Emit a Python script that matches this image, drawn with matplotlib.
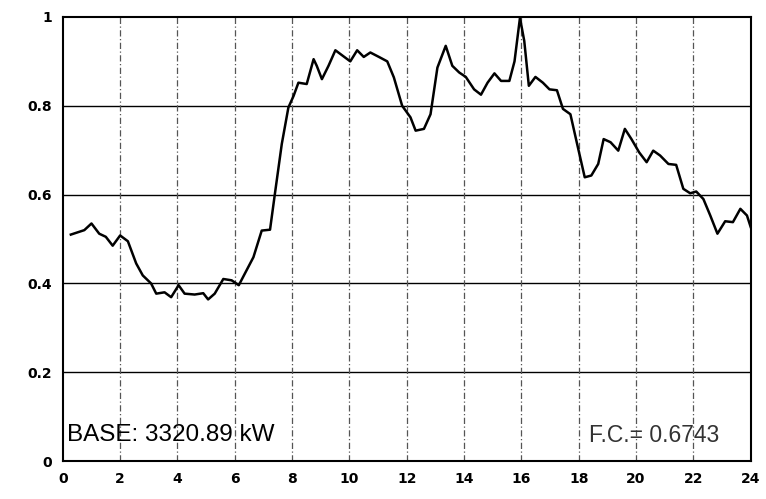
import matplotlib.pyplot as plt

# Load curve (hour of day, per-unit of peak)
hours = [
    0.28, 0.75, 1.0, 1.27, 1.5, 1.74, 2.0, 2.27, 2.56, 2.79, 3.08, 3.26,
    3.55, 3.78, 4.04, 4.25, 4.6, 4.9, 5.07, 5.3, 5.6, 5.89, 6.14, 6.35,
    6.65, 6.94, 7.23, 7.4, 7.64, 7.87, 8.05, 8.22, 8.51, 8.75, 8.86, 9.04,
    9.27, 9.51, 9.78, 10.03, 10.27, 10.5, 10.73, 11.03, 11.32, 11.55, 11.84,
    12.13, 12.31, 12.6, 12.83, 13.07, 13.36, 13.59, 13.83, 14.06, 14.35,
    14.59, 14.82, 15.06, 15.29, 15.58, 15.76, 15.95, 16.1, 16.26, 16.49,
    16.75, 16.98, 17.24, 17.45, 17.71, 17.92, 18.21, 18.44, 18.68, 18.87,
    19.11, 19.38, 19.61, 19.84, 20.11, 20.37, 20.6, 20.84, 21.13, 21.4,
    21.65, 21.89, 22.1, 22.35, 22.59, 22.84, 23.11, 23.38, 23.64, 23.87, 24.0,
]
load = [
    0.51, 0.52, 0.535, 0.512, 0.505, 0.485, 0.508, 0.495, 0.445, 0.418, 0.40, 0.377,
    0.38, 0.369, 0.396, 0.377, 0.375, 0.378, 0.364, 0.377, 0.41, 0.407, 0.396, 0.422,
    0.459, 0.519, 0.521, 0.602, 0.714, 0.796, 0.822, 0.852, 0.849, 0.905, 0.89, 0.86,
    0.89, 0.925, 0.912, 0.90, 0.925, 0.91, 0.92, 0.91, 0.90, 0.864, 0.80,
    0.774, 0.744, 0.748, 0.781, 0.886, 0.935, 0.89, 0.875, 0.865, 0.837,
    0.825, 0.852, 0.873, 0.856, 0.856, 0.90, 0.998, 0.946, 0.845, 0.865,
    0.852, 0.837, 0.835, 0.793, 0.781, 0.721, 0.639, 0.643, 0.669, 0.725,
    0.718, 0.699, 0.748, 0.725, 0.695, 0.673, 0.699, 0.688, 0.669, 0.667,
    0.613, 0.603, 0.607, 0.59, 0.553, 0.512, 0.54, 0.538, 0.568, 0.553, 0.527,
]

x_ticks = list(range(0, 25, 2))
y_ticks = [0, 0.2, 0.4, 0.6, 0.8, 1]
y_tick_labels = ["0", "0.2", "0.4", "0.6", "0.8", "1"]

base_text = "BASE: 3320.89 kW"
fc_text = "F.C.= 0.6743"


def main() -> None:
    fig = plt.figure(figsize=(7.66, 4.99), dpi=100)
    ax = fig.add_axes([0.082, 0.076, 0.898, 0.890])

    # Horizontal solid grid, vertical dash-dot grid
    for y in y_ticks[1:-1]:
        ax.axhline(y, color="black", linewidth=1.0)
    for x in x_ticks[1:-1]:
        ax.axvline(x, color="#555555", linewidth=0.9, linestyle=(0, (5, 2, 1, 2)))

    ax.plot(hours, load, color="black", linewidth=1.8)

    ax.set_xlim(0, 24)
    ax.set_ylim(0, 1)
    ax.set_xticks(x_ticks)
    ax.set_yticks(y_ticks)
    ax.set_yticklabels(y_tick_labels)
    ax.tick_params(length=0, labelsize=10, pad=8)
    for lbl in ax.get_xticklabels() + ax.get_yticklabels():
        lbl.set_fontweight("bold")

    for side in ax.spines.values():
        side.set_linewidth(1.5)
        side.set_color("black")

    ax.text(0.15, 0.058, base_text, fontsize=17.5, family="Liberation Sans", va="center")
    ax.text(18.35, 0.058, fc_text, fontsize=16.5, family="Liberation Sans", ha="left",
            va="center", color="#333333")

    fig.savefig("out.png", dpi=100)
    plt.close(fig)


if __name__ == "__main__":
    main()
